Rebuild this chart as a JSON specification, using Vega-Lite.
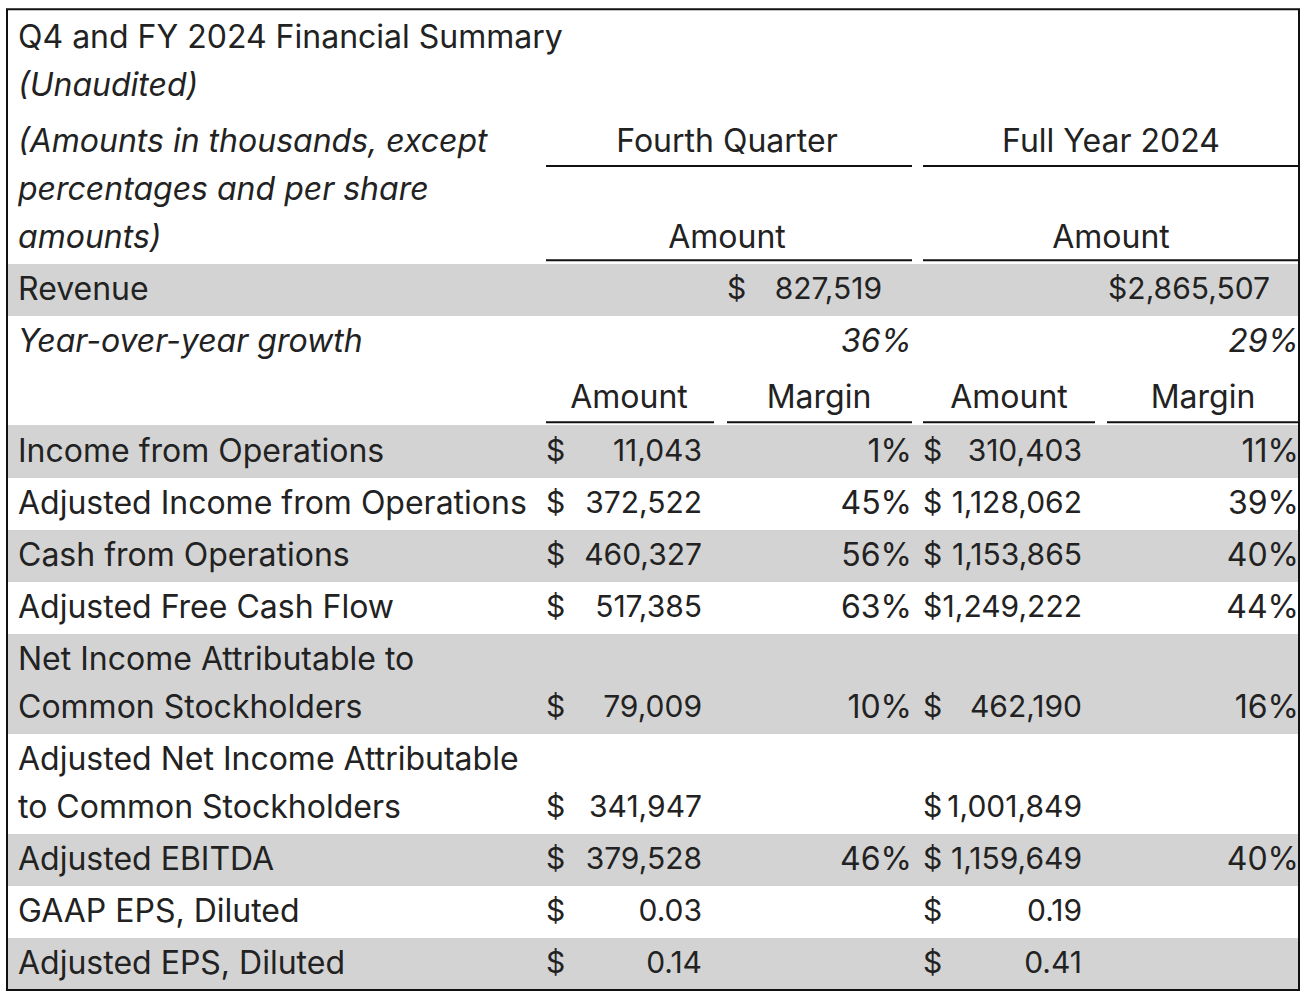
{
  "$schema": "https://vega.github.io/schema/vega-lite/v6.json",
  "width": 1308,
  "height": 998,
  "padding": 0,
  "autosize": {"type": "none"},
  "background": "white",
  "config": {"view": {"stroke": null}, "text": {"font": "Inter", "fontSize": 32, "color": "#222222", "baseline": "middle"}},
  "datasets": {
    "bands": [
      {"row": "Revenue", "top": 4.5, "bottom": 5.5, "c0": 0, "c1": 18},
      {"row": "Income from Operations", "top": 7.5, "bottom": 8.5, "c0": 0, "c1": 18},
      {"row": "Cash from Operations", "top": 9.5, "bottom": 10.5, "c0": 0, "c1": 18},
      {"row": "Net Income Attributable to Common Stockholders", "top": 11.5, "bottom": 13.5, "c0": 0, "c1": 18},
      {"row": "Adjusted EBITDA", "top": 15.5, "bottom": 16.5, "c0": 0, "c1": 18},
      {"row": "Adjusted EPS, Diluted", "top": 17.5, "bottom": 18.5, "c0": 0, "c1": 18}
    ],
    "frame": [{"top": -0.6, "bottom": 18.5, "c0": 0, "c1": 18}],
    "rules": [
      {"ln": 2.5, "c0": 2, "c1": 9},
      {"ln": 2.5, "c0": 10, "c1": 18},
      {"ln": 4.43, "c0": 2, "c1": 9},
      {"ln": 4.43, "c0": 10, "c1": 18},
      {"ln": 7.45, "c0": 2, "c1": 5},
      {"ln": 7.45, "c0": 6, "c1": 9},
      {"ln": 7.45, "c0": 10, "c1": 13},
      {"ln": 7.45, "c0": 14, "c1": 18}
    ],
    "cells": [
      {"ln": 0, "col": 1, "role": "title", "text": "Q4 and FY 2024 Financial Summary"},
      {"ln": 1, "col": 1, "role": "note", "text": "(Unaudited)"},
      {"ln": 2, "col": 1, "role": "note", "text": "(Amounts in thousands, except"},
      {"ln": 3, "col": 1, "role": "note", "text": "percentages and per share"},
      {"ln": 4, "col": 1, "role": "note", "text": "amounts)"},
      {"ln": 2, "col": 6, "role": "header", "text": "Fourth Quarter"},
      {"ln": 2, "col": 15, "role": "header", "text": "Full Year 2024"},
      {"ln": 4, "col": 6, "role": "header", "text": "Amount"},
      {"ln": 4, "col": 15, "role": "header", "text": "Amount"},
      {"ln": 5, "col": 1, "role": "label", "text": "Revenue"},
      {"ln": 5, "col": 6, "role": "dollar", "text": "$"},
      {"ln": 5, "col": 8, "role": "amount", "text": "827,519"},
      {"ln": 5, "col": 17, "role": "amount", "text": "$2,865,507"},
      {"ln": 6, "col": 1, "role": "note", "text": "Year-over-year growth"},
      {"ln": 6, "col": 9, "role": "growth", "text": "36%"},
      {"ln": 6, "col": 18, "role": "growth", "text": "29%"},
      {"ln": 7, "col": 3, "role": "header", "text": "Amount"},
      {"ln": 7, "col": 7, "role": "header", "text": "Margin"},
      {"ln": 7, "col": 11, "role": "header", "text": "Amount"},
      {"ln": 7, "col": 16, "role": "header", "text": "Margin"},

      {"ln": 8, "col": 1, "role": "label", "text": "Income from Operations"},
      {"ln": 8, "col": 2, "role": "dollar", "text": "$"},
      {"ln": 8, "col": 4, "role": "amount", "text": "11,043"},
      {"ln": 8, "col": 9, "role": "margin", "text": "1%"},
      {"ln": 8, "col": 10, "role": "dollar", "text": "$"},
      {"ln": 8, "col": 12, "role": "amount", "text": "310,403"},
      {"ln": 8, "col": 18, "role": "margin", "text": "11%"},

      {"ln": 9, "col": 1, "role": "label", "text": "Adjusted Income from Operations"},
      {"ln": 9, "col": 2, "role": "dollar", "text": "$"},
      {"ln": 9, "col": 4, "role": "amount", "text": "372,522"},
      {"ln": 9, "col": 9, "role": "margin", "text": "45%"},
      {"ln": 9, "col": 10, "role": "dollar", "text": "$"},
      {"ln": 9, "col": 12, "role": "amount", "text": "1,128,062"},
      {"ln": 9, "col": 18, "role": "margin", "text": "39%"},

      {"ln": 10, "col": 1, "role": "label", "text": "Cash from Operations"},
      {"ln": 10, "col": 2, "role": "dollar", "text": "$"},
      {"ln": 10, "col": 4, "role": "amount", "text": "460,327"},
      {"ln": 10, "col": 9, "role": "margin", "text": "56%"},
      {"ln": 10, "col": 10, "role": "dollar", "text": "$"},
      {"ln": 10, "col": 12, "role": "amount", "text": "1,153,865"},
      {"ln": 10, "col": 18, "role": "margin", "text": "40%"},

      {"ln": 11, "col": 1, "role": "label", "text": "Adjusted Free Cash Flow"},
      {"ln": 11, "col": 2, "role": "dollar", "text": "$"},
      {"ln": 11, "col": 4, "role": "amount", "text": "517,385"},
      {"ln": 11, "col": 9, "role": "margin", "text": "63%"},
      {"ln": 11, "col": 10, "role": "dollar", "text": "$"},
      {"ln": 11, "col": 12, "role": "amount", "text": "1,249,222"},
      {"ln": 11, "col": 18, "role": "margin", "text": "44%"},

      {"ln": 12, "col": 1, "role": "label", "text": "Net Income Attributable to"},
      {"ln": 13, "col": 1, "role": "label", "text": "Common Stockholders"},
      {"ln": 13, "col": 2, "role": "dollar", "text": "$"},
      {"ln": 13, "col": 4, "role": "amount", "text": "79,009"},
      {"ln": 13, "col": 9, "role": "margin", "text": "10%"},
      {"ln": 13, "col": 10, "role": "dollar", "text": "$"},
      {"ln": 13, "col": 12, "role": "amount", "text": "462,190"},
      {"ln": 13, "col": 18, "role": "margin", "text": "16%"},

      {"ln": 14, "col": 1, "role": "label", "text": "Adjusted Net Income Attributable"},
      {"ln": 15, "col": 1, "role": "label", "text": "to Common Stockholders"},
      {"ln": 15, "col": 2, "role": "dollar", "text": "$"},
      {"ln": 15, "col": 4, "role": "amount", "text": "341,947"},
      {"ln": 15, "col": 10, "role": "dollar", "text": "$"},
      {"ln": 15, "col": 12, "role": "amount", "text": "1,001,849"},

      {"ln": 16, "col": 1, "role": "label", "text": "Adjusted EBITDA"},
      {"ln": 16, "col": 2, "role": "dollar", "text": "$"},
      {"ln": 16, "col": 4, "role": "amount", "text": "379,528"},
      {"ln": 16, "col": 9, "role": "margin", "text": "46%"},
      {"ln": 16, "col": 10, "role": "dollar", "text": "$"},
      {"ln": 16, "col": 12, "role": "amount", "text": "1,159,649"},
      {"ln": 16, "col": 18, "role": "margin", "text": "40%"},

      {"ln": 17, "col": 1, "role": "label", "text": "GAAP EPS, Diluted"},
      {"ln": 17, "col": 2, "role": "dollar", "text": "$"},
      {"ln": 17, "col": 4, "role": "amount", "text": "0.03"},
      {"ln": 17, "col": 10, "role": "dollar", "text": "$"},
      {"ln": 17, "col": 12, "role": "amount", "text": "0.19"},

      {"ln": 18, "col": 1, "role": "label", "text": "Adjusted EPS, Diluted"},
      {"ln": 18, "col": 2, "role": "dollar", "text": "$"},
      {"ln": 18, "col": 4, "role": "amount", "text": "0.14"},
      {"ln": 18, "col": 10, "role": "dollar", "text": "$"},
      {"ln": 18, "col": 12, "role": "amount", "text": "0.41"}
    ]
  },
  "resolve": {"scale": {"x": "shared", "y": "shared"}},
  "layer": [
    {
      "data": {"name": "bands"},
      "mark": {"type": "rect", "color": "#d3d3d3"},
      "encoding": {
        "x": {"field": "c0", "type": "quantitative", "axis": null, "scale": {"domain": [0,1,2,3,4,5,6,7,8,9,10,11,12,13,14,15,16,17,18], "range": [7,18,546,629,702,714,727,819,882,912,923,1009,1082,1095,1107,1111,1203,1270,1299], "zero": false, "nice": false}},
        "x2": {"field": "c1"},
        "y": {"field": "top", "type": "quantitative", "axis": null, "scale": {"domain": [0,1,2,3,4,5,6,7,8,9,10,11,12,13,14,15,16,17,18], "range": [38,86,142,190,238,290,342,398,452,504,556,608,660,708,760,808,860,912,964], "zero": false, "nice": false}},
        "y2": {"field": "bottom"}
      }
    },
    {
      "data": {"name": "rules"},
      "mark": {"type": "rule", "color": "#111111", "strokeWidth": 2},
      "encoding": {
        "x": {"field": "c0", "type": "quantitative"},
        "x2": {"field": "c1"},
        "y": {"field": "ln", "type": "quantitative"}
      }
    },
    {
      "data": {"name": "frame"},
      "mark": {"type": "rect", "fill": null, "fillOpacity": 0, "stroke": "#111111", "strokeWidth": 2},
      "encoding": {
        "x": {"field": "c0", "type": "quantitative"},
        "x2": {"field": "c1"},
        "y": {"field": "top", "type": "quantitative"},
        "y2": {"field": "bottom"}
      }
    },
    {
      "data": {"name": "cells"},
      "transform": [{"filter": {"field": "role", "oneOf": ["title", "label"]}}],
      "mark": {"type": "text", "align": "left"},
      "encoding": {
        "x": {"field": "col", "type": "quantitative"},
        "y": {"field": "ln", "type": "quantitative"},
        "text": {"field": "text"}
      }
    },
    {
      "data": {"name": "cells"},
      "transform": [{"filter": {"field": "role", "equal": "dollar"}}],
      "mark": {"type": "text", "align": "left", "fontSize": 30},
      "encoding": {
        "x": {"field": "col", "type": "quantitative"},
        "y": {"field": "ln", "type": "quantitative"},
        "text": {"field": "text"}
      }
    },
    {
      "data": {"name": "cells"},
      "transform": [{"filter": {"field": "role", "equal": "note"}}],
      "mark": {"type": "text", "align": "left", "fontStyle": "italic"},
      "encoding": {
        "x": {"field": "col", "type": "quantitative"},
        "y": {"field": "ln", "type": "quantitative"},
        "text": {"field": "text"}
      }
    },
    {
      "data": {"name": "cells"},
      "transform": [{"filter": {"field": "role", "equal": "amount"}}],
      "mark": {"type": "text", "align": "right", "fontSize": 30},
      "encoding": {
        "x": {"field": "col", "type": "quantitative"},
        "y": {"field": "ln", "type": "quantitative"},
        "text": {"field": "text"}
      }
    },
    {
      "data": {"name": "cells"},
      "transform": [{"filter": {"field": "role", "equal": "margin"}}],
      "mark": {"type": "text", "align": "right"},
      "encoding": {
        "x": {"field": "col", "type": "quantitative"},
        "y": {"field": "ln", "type": "quantitative"},
        "text": {"field": "text"}
      }
    },
    {
      "data": {"name": "cells"},
      "transform": [{"filter": {"field": "role", "equal": "growth"}}],
      "mark": {"type": "text", "align": "right", "fontStyle": "italic"},
      "encoding": {
        "x": {"field": "col", "type": "quantitative"},
        "y": {"field": "ln", "type": "quantitative"},
        "text": {"field": "text"}
      }
    },
    {
      "data": {"name": "cells"},
      "transform": [{"filter": {"field": "role", "equal": "header"}}],
      "mark": {"type": "text", "align": "center"},
      "encoding": {
        "x": {"field": "col", "type": "quantitative"},
        "y": {"field": "ln", "type": "quantitative"},
        "text": {"field": "text"}
      }
    }
  ]
}
